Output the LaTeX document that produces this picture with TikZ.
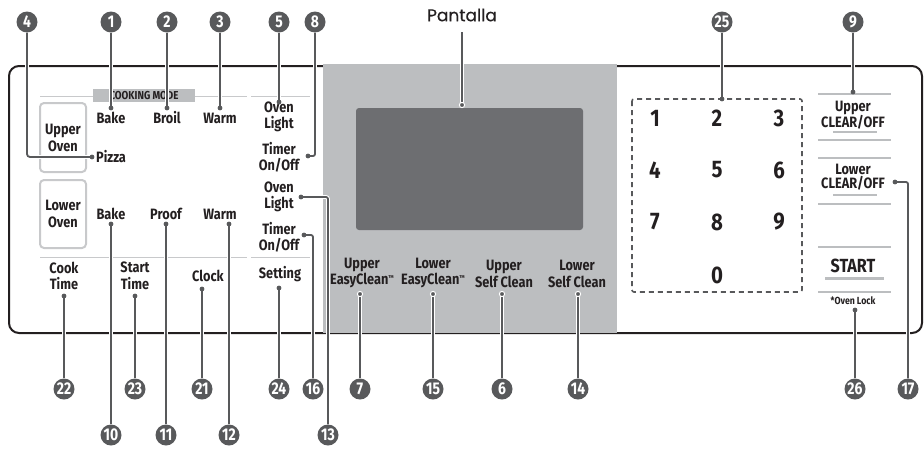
\documentclass[tikz,border=0pt]{standalone}
\usepackage{fontspec}
\newfontfamily\lab{Fira Sans}[FakeStretch=0.85]
\newfontfamily\bfont{Fira Sans}[FakeStretch=0.82]
\newfontfamily\geo{Poppins}[FakeBold=0.4]
\definecolor{badgec}{HTML}{58595B}
\definecolor{leadc}{HTML}{58595B}
\definecolor{panelg}{HTML}{BCBEC0}
\definecolor{screenc}{HTML}{6D6E71}
\definecolor{thing}{HTML}{C8C9CB}
\definecolor{txtc}{HTML}{231F20}
\newcommand{\tmark}{\raisebox{4pt}{\fontsize{7}{7}\selectfont ™}}
\tikzset{
  badge/.style={circle, fill=badgec, text=white, inner sep=0pt, minimum size=21pt,
    font=\bfont\bfseries\fontsize{17}{17}\selectfont},
  lbl/.style={align=center, inner sep=0pt, text=txtc,
    font=\lab\bfseries\fontsize{15}{16.5}\selectfont},
  digit/.style={inner sep=0pt, text=txtc, font=\lab\bfseries\fontsize{24}{24}\selectfont},
  leader/.style={draw=leadc, line width=1.8pt, preaction={draw=white, line width=3.8pt}},
  thinline/.style={draw=thing, line width=1pt},
  grayline/.style={draw=panelg, line width=2.5pt},
  ovenbox/.style={draw=thing, line width=2pt, rounded corners=4pt},
}
\begin{document}
\begin{tikzpicture}[x=1pt,y=-1pt]
\useasboundingbox (0,0) rectangle (924,451);
% panel outline
\draw[line width=2pt, rounded corners=10pt, txtc] (9,66) rectangle (922,333);
% display area
\fill[panelg] (323,64) rectangle (617,333);
\fill[screenc, rounded corners=3pt] (356,108) rectangle (583,230);
% dividers left
\draw[thinline] (40,96) -- (93,96) (195,96) -- (247,96) (251,96) -- (310,96);
\draw[thinline] (40,257) -- (247,257) (251,257) -- (310,257);
\fill[panelg] (93,89) rectangle (195,102);
\node[inner sep=0pt, text=txtc, font=\lab\bfseries\fontsize{11.5}{11.5}\selectfont] (cm) at (144,96) {COOKING MODE};
% oven boxes
\draw[ovenbox] (40,103) rectangle (86,172);
\draw[ovenbox] (40,180) rectangle (86,248);
\node[lbl] (uo) at (63,138) {Upper\\Oven};
\node[lbl] (lo) at (63,214) {Lower\\Oven};
% labels
\node[lbl] (bake1) at (111,118) {Bake};
\node[lbl] (broil) at (167,118) {Broil};
\node[lbl] (warm1) at (220,118) {Warm};
\node[lbl, anchor=west] (pizza) at (96,157) {Pizza};
\node[lbl] (ol1) at (279,117) {Oven\\Light};
\node[lbl] (to1) at (279,157) {Timer\\On/Off};
\node[lbl] (ol2) at (279,197) {Oven\\Light};
\node[lbl] (to2) at (279,237) {Timer\\On/Off};
\node[lbl] (bake2) at (111,214) {Bake};
\node[lbl] (proof) at (166,214) {Proof};
\node[lbl] (warm2) at (220,214) {Warm};
\node[lbl] (cook) at (64,276) {Cook\\Time};
\node[lbl] (start) at (135,276) {Start\\Time};
\node[lbl] (clock) at (208,276) {Clock};
\node[lbl] (setting) at (280,274) {Setting};
\node[lbl] (uec) at (362,273) {Upper\\EasyClean\tmark};
\node[lbl] (lec) at (433,273) {Lower\\EasyClean\tmark};
\node[lbl] (usc) at (504,274) {Upper\\Self Clean};
\node[lbl] (lsc) at (577,274) {Lower\\Self Clean};
\node[inner sep=0pt, text=txtc, font=\geo\fontsize{17}{17}\selectfont] (pant) at (462,15) {Pantalla};
% keypad
\draw[leadc, line width=1.6pt, dash pattern=on 5pt off 4pt, rounded corners=2pt] (632,99) rectangle (802,292);
\node[digit] (k1) at (655,118) {1};
\node[digit] (k2) at (717,118) {2};
\node[digit] (k3) at (779,118) {3};
\node[digit] (k4) at (655,170) {4};
\node[digit] (k5) at (717,170) {5};
\node[digit] (k6) at (779,170) {6};
\node[digit] (k7) at (655,222) {7};
\node[digit] (k8) at (717,222) {8};
\node[digit] (k9) at (779,222) {9};
\node[digit] (k0) at (717,275) {0};
% right column
\draw[grayline] (818,94) -- (891,94) (818,140) -- (891,140) (818,158) -- (891,158) (818,204) -- (891,204) (818,247) -- (891,247) (818,292) -- (891,292);
\draw[draw=panelg, line width=1.5pt] (833,132) -- (877,132) (833,195) -- (877,195);
\draw[draw=panelg, line width=3pt] (825,278) -- (884,278);
\node[lbl, font=\lab\bfseries\fontsize{15}{14.5}\selectfont] (ucl) at (853,115) {Upper\\CLEAR/OFF};
\node[lbl, font=\lab\bfseries\fontsize{15}{14.5}\selectfont] (lcl) at (853,177) {Lower\\CLEAR/OFF};
\node[lbl, font=\lab\bfseries\fontsize{19}{19}\selectfont] (startk) at (853,266) {START};
\node[lbl, font=\lab\bfseries\fontsize{10.3}{10.3}\selectfont] (lock) at (853,301) {*Oven Lock};
% badges
\node[badge] (b4) at (27,22) {4};
\node[badge] (b1) at (111,22) {1};
\node[badge] (b2) at (167,22) {2};
\node[badge] (b3) at (220,22) {3};
\node[badge] (b5) at (279,22) {5};
\node[badge] (b8) at (315,22) {8};
\node[badge] (b25) at (722,22) {25};
\node[badge] (b9) at (853,22) {9};
\node[badge] (b22) at (64,389) {22};
\node[badge] (b23) at (135,389) {23};
\node[badge] (b21) at (202,389) {21};
\node[badge] (b24) at (279,389) {24};
\node[badge] (b16) at (313,389) {16};
\node[badge] (b7) at (360,389) {7};
\node[badge] (b15) at (433,389) {15};
\node[badge] (b6) at (502,389) {6};
\node[badge] (b14) at (578,389) {14};
\node[badge] (b26) at (855,389) {26};
\node[badge] (b17) at (908,389) {17};
\node[badge] (b10) at (111,435) {10};
\node[badge] (b11) at (166,435) {11};
\node[badge] (b12) at (229,435) {12};
\node[badge] (b13) at (328,435) {13};
% dot coordinates
\coordinate (d4) at (92,157);
\coordinate (d1) at (111,108);
\coordinate (d2) at (167,108);
\coordinate (d3) at (220,108);
\coordinate (d5) at (279,102);
\coordinate (d8) at (308,156);
\coordinate (dp) at (462,105);
\coordinate (d25) at (722,99);
\coordinate (d9) at (853,92);
\coordinate (d13) at (301,197);
\coordinate (d16) at (304,235);
\coordinate (d17) at (895,182);
\coordinate (d10) at (111,224);
\coordinate (d11) at (166,224);
\coordinate (d12) at (229,224);
\coordinate (d22) at (64,296);
\coordinate (d23) at (135,296);
\coordinate (d21) at (202,289);
\coordinate (d24) at (279,288);
\coordinate (d7) at (360,294);
\coordinate (d15) at (433,294);
\coordinate (d6) at (502,294);
\coordinate (d14) at (578,294);
\coordinate (d26) at (855,310);
% leaders
\draw[leader, rounded corners=3pt] (b4) |- (d4);
\foreach \n in {1,2,3,5,25,9,10,11,12,22,23,21,24,7,15,6,14,26}
  \draw[leader] (b\n) -- (d\n);
\draw[leader] (pant) ++(0,17) coordinate (pt) -- (dp);
\draw[leader, rounded corners=2pt] (d8) -| (b8);
\draw[leader, rounded corners=2pt] (d13) -| (b13);
\draw[leader, rounded corners=2pt] (d16) -| (b16);
\draw[leader, rounded corners=2pt] (d17) -| (b17);
% dots
\foreach \n in {4,1,2,3,5,8,25,9,13,16,17,10,11,12,22,23,21,24,26}
  \fill[leadc] (d\n) circle (2.4pt);
\foreach \n in {p,7,15,6,14}
  \filldraw[fill=leadc, draw=white, line width=1pt] (d\n) circle (2.6pt);
\end{tikzpicture}
\end{document}
